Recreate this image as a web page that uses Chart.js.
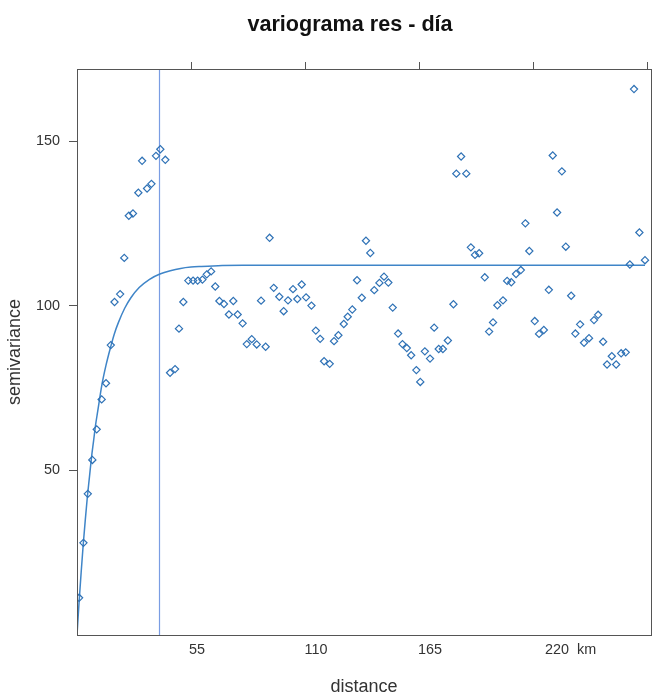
<!DOCTYPE html>
<html>
<head>
<meta charset="utf-8">
<title>variograma res - día</title>
<script src="https://cdn.jsdelivr.net/npm/chart.js@4/dist/chart.umd.min.js"></script>
<style>
  html, body { margin: 0; padding: 0; background: #ffffff; }
  #wrap { width: 665px; height: 696px; }
</style>
</head>
<body>
<div id="wrap"><canvas id="vg" width="665" height="696"></canvas></div>
<script>
// Empirical semivariogram of the daily residuals: lag distance (km) and semivariance
const lagKm = [
  1.0, 3.1, 5.2, 7.4, 9.5, 11.9, 14.0, 16.3, 18.1, 20.8,
  22.8, 25.0, 27.0, 29.6, 31.4, 33.8, 35.9, 38.1, 40.2, 42.6,
  44.9, 47.3, 49.2, 51.3, 53.7, 56.0, 58.2, 60.5, 62.6, 64.7,
  66.7, 68.7, 70.9, 73.3, 75.4, 77.5, 79.9, 81.9, 84.3, 86.7,
  88.8, 91.0, 92.9, 94.9, 97.6, 99.7, 101.8, 104.2, 106.3, 108.4,
  110.5, 113.1, 115.2, 117.3, 119.2, 121.9, 124.0, 126.1, 128.7, 130.6,
  132.8, 135.1, 137.4, 139.4, 141.5, 143.4, 145.9, 148.1, 150.2, 152.3,
  154.9, 157.0, 159.1, 161.2, 163.7, 165.6, 167.8, 170.3, 172.3, 174.5,
  176.5, 178.9, 181.6, 183.0, 185.3, 187.8, 190.0, 192.0, 194.0, 196.7,
  198.8, 200.7, 202.8, 205.5, 207.5, 209.5, 211.8, 214.1, 216.3, 218.2,
  220.8, 222.9, 225.2, 227.6, 229.5, 231.6, 233.9, 235.8, 238.4, 240.4,
  242.7, 244.6, 247.0, 249.4, 251.4, 253.8, 255.7, 258.0, 260.1, 262.5,
  264.7, 266.7, 268.7, 271.3, 274.0
];
const gamma = [
  11.3, 28.0, 42.9, 53.2, 62.5, 71.6, 76.5, 88.1, 101.2, 103.6,
  114.6, 127.4, 128.1, 134.4, 144.1, 135.7, 137.1, 145.6, 147.6, 144.4,
  79.7, 80.8, 93.1, 101.2, 107.7, 107.7, 107.7, 108.0, 109.6, 110.5,
  105.9, 101.5, 100.6, 97.4, 101.5, 97.4, 94.7, 88.4, 89.9, 88.3,
  101.6, 87.6, 120.7, 105.5, 102.8, 98.4, 101.7, 105.1, 102.1, 106.5,
  102.6, 100.1, 92.5, 90.0, 83.2, 82.4, 89.3, 91.1, 94.5, 96.7,
  98.9, 107.8, 102.5, 119.8, 116.1, 104.8, 107.0, 108.9, 107.1, 99.5,
  91.6, 88.4, 87.2, 85.0, 80.5, 76.9, 86.2, 84.0, 93.4, 86.9,
  86.9, 89.5, 100.5, 140.2, 145.4, 140.2, 117.8, 115.5, 116.0, 108.7,
  92.2, 95.0, 100.2, 101.7, 107.6, 107.2, 109.7, 110.9, 125.1, 116.7,
  95.4, 91.5, 92.7, 104.9, 145.7, 128.4, 140.9, 118.0, 103.1, 91.6,
  94.4, 88.8, 90.2, 95.7, 97.3, 89.1, 82.2, 84.7, 82.2, 85.6,
  85.9, 112.6, 165.9, 122.3, 113.9
];

// Fitted model curve (distance km, semivariance)
const modelKm = [0, 1, 2, 3, 4, 5, 6, 7, 8, 9, 10, 12, 14, 16, 18, 20, 23, 26, 30, 35, 40, 45, 50, 55, 60, 70, 80, 274];
const modelGamma = [0, 10, 19, 27.5, 35, 42, 48, 54, 59, 64, 68, 76, 82, 87, 91.5, 95, 99.3, 102.5, 105.6, 108.1, 109.7, 110.7, 111.4, 111.8, 112, 112.3, 112.4, 112.4];

// Reference distance marked by the vertical line (km)
const rangeKm = 39.8;

// Axis ticks
const yTicks = [50, 100, 150];
const topTicks = [55, 110, 165, 220, 275];
const distLabels = ['55', '110', '165', '220  km'];
const distLabelAt = [57.9, 115.3, 170.3, 238.1];

const TITLE = 'variograma res - día';

const X_MIN = 0, X_MAX = 276.9;
const Y_MIN = 0, Y_MAX = 172;

const BLUE = '#2f72b6';
const AXIS = '#555555';
const TXT = '#333333';
const FONT = '"Liberation Sans", Arial, Helvetica, sans-serif';

// Box around the plotting region
const framePlugin = {
  id: 'frame',
  afterDraw(chart) {
    const { ctx, chartArea: a } = chart;
    ctx.save();
    ctx.strokeStyle = AXIS;
    ctx.lineWidth = 1;
    ctx.strokeRect(Math.round(a.left) + 0.5, Math.round(a.top) + 0.5,
                   Math.round(a.right - a.left), Math.round(a.bottom - a.top));
    ctx.restore();
  }
};

// Main title, placed over the panel like the lattice page title
const mainTitlePlugin = {
  id: 'mainTitle',
  afterDraw(chart) {
    const { ctx } = chart;
    ctx.save();
    ctx.fillStyle = '#111111';
    ctx.font = 'bold 21.6px ' + FONT;
    ctx.textAlign = 'center';
    ctx.textBaseline = 'alphabetic';
    ctx.fillText(TITLE, 350, 31);
    ctx.restore();
  }
};

new Chart(document.getElementById('vg'), {
  data: {
    datasets: [
      {
        type: 'scatter',
        label: 'semivariance',
        data: lagKm.map((d, i) => ({ x: d, y: gamma[i] })),
        pointStyle: 'rectRot',
        pointRadius: 3.6,
        pointBorderWidth: 1.2,
        pointBackgroundColor: 'rgba(255,255,255,0)',
        pointBorderColor: BLUE,
        order: 0
      },
      {
        type: 'line',
        label: 'model',
        data: modelKm.map((d, i) => ({ x: d, y: modelGamma[i] })),
        borderColor: '#3f85c8',
        backgroundColor: '#3f85c8',
        borderWidth: 1.5,
        pointRadius: 0,
        cubicInterpolationMode: 'monotone',
        fill: false,
        order: 1
      },
      {
        type: 'line',
        label: 'range',
        data: [{ x: rangeKm, y: Y_MIN }, { x: rangeKm, y: Y_MAX }],
        borderColor: '#7a9de3',
        backgroundColor: '#7a9de3',
        borderWidth: 1.2,
        pointRadius: 0,
        fill: false,
        order: 2
      }
    ]
  },
  options: {
    responsive: false,
    animation: false,
    events: [],
    layout: { padding: { left: 0, right: 14, top: 0, bottom: 0 } },
    plugins: {
      legend: { display: false },
      tooltip: { enabled: false },
      title: { display: false }
    },
    scales: {
      x: {
        type: 'linear',
        position: 'bottom',
        min: X_MIN,
        max: X_MAX,
        afterBuildTicks: s => { s.ticks = distLabelAt.map(v => ({ value: v })); },
        afterFit: s => { s.height = 61; },
        ticks: {
          autoSkip: false,
          maxRotation: 0,
          padding: 6,
          color: TXT,
          font: { family: FONT, size: 14.4 },
          callback: (v, i) => distLabels[i]
        },
        grid: { display: false, drawTicks: false },
        border: { display: true, color: AXIS },
        title: {
          display: true,
          text: 'distance',
          color: TXT,
          font: { family: FONT, size: 18 },
          padding: { top: 0, bottom: -2 }
        }
      },
      x2: {
        type: 'linear',
        position: 'top',
        min: X_MIN,
        max: X_MAX,
        afterBuildTicks: s => { s.ticks = topTicks.map(v => ({ value: v })); },
        afterFit: s => { s.height = 69; },
        ticks: { display: false },
        grid: { display: true, drawOnChartArea: false, drawTicks: true, tickLength: 7, color: AXIS },
        border: { display: true, color: AXIS }
      },
      y: {
        type: 'linear',
        position: 'left',
        min: Y_MIN,
        max: Y_MAX,
        afterBuildTicks: s => { s.ticks = yTicks.map(v => ({ value: v })); },
        afterFit: s => { s.width = 77; },
        ticks: {
          padding: 9,
          color: TXT,
          font: { family: FONT, size: 14.4 },
          callback: v => String(v)
        },
        grid: { display: true, drawOnChartArea: false, drawTicks: true, tickLength: 8, color: AXIS },
        border: { display: true, color: AXIS },
        title: {
          display: true,
          text: 'semivariance',
          color: TXT,
          font: { family: FONT, size: 18 },
          padding: { top: 4, bottom: 0 }
        }
      }
    }
  },
  plugins: [framePlugin, mainTitlePlugin]
});
</script>
</body>
</html>
